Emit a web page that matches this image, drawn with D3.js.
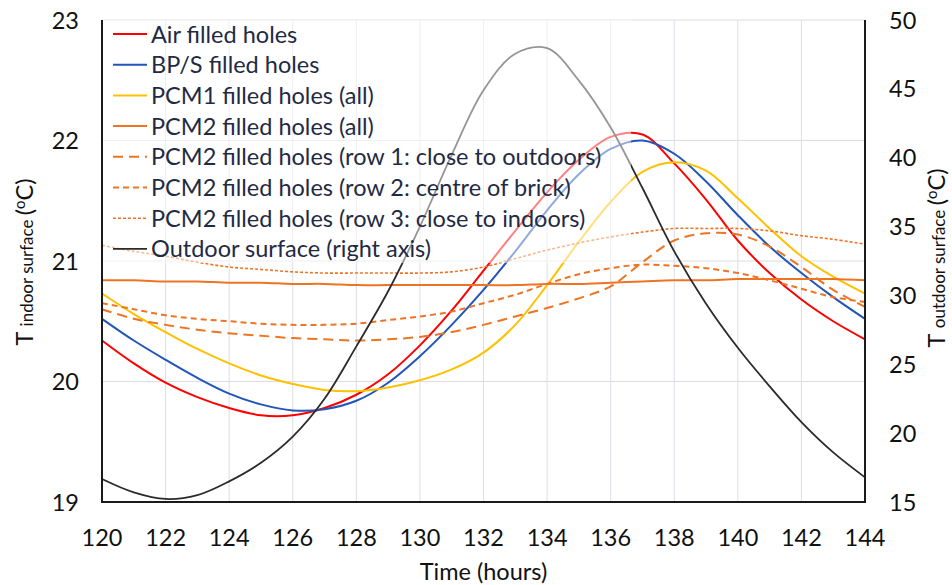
<!DOCTYPE html>
<html>
<head>
<meta charset="utf-8">
<script src="https://cdn.jsdelivr.net/npm/d3@7"></script>
<style>
  body { margin: 0; background: #fff; }
  text { font-family: Lato, "Open Sans", sans-serif; }
</style>
</head>
<body>
<script>
// data (hourly, 120..144)
const hours = d3.range(120, 145);
const airHoles   = [20.34, 20.15, 19.99, 19.87, 19.78, 19.72, 19.72, 19.78, 19.89, 20.06, 20.30, 20.59, 20.92, 21.25, 21.57, 21.84, 22.03, 22.05, 21.81, 21.51, 21.17, 20.90, 20.68, 20.50, 20.35];
const bpsHoles   = [20.52, 20.34, 20.18, 20.03, 19.90, 19.81, 19.76, 19.77, 19.84, 19.99, 20.21, 20.47, 20.76, 21.08, 21.42, 21.72, 21.93, 22.00, 21.89, 21.66, 21.38, 21.12, 20.90, 20.70, 20.52];
const pcm1All    = [20.73, 20.56, 20.41, 20.27, 20.15, 20.05, 19.98, 19.93, 19.92, 19.95, 20.01, 20.10, 20.24, 20.47, 20.80, 21.16, 21.49, 21.74, 21.82, 21.75, 21.52, 21.27, 21.04, 20.87, 20.73];
const pcm2All    = [20.84, 20.84, 20.83, 20.83, 20.82, 20.82, 20.81, 20.81, 20.80, 20.80, 20.80, 20.80, 20.80, 20.80, 20.81, 20.81, 20.82, 20.83, 20.84, 20.84, 20.85, 20.85, 20.85, 20.85, 20.84];
const pcm2Row1   = [20.60, 20.52, 20.47, 20.43, 20.40, 20.38, 20.36, 20.35, 20.34, 20.35, 20.37, 20.41, 20.47, 20.54, 20.61, 20.69, 20.79, 20.99, 21.17, 21.23, 21.22, 21.12, 20.95, 20.76, 20.62];
const pcm2Row2   = [20.65, 20.60, 20.55, 20.52, 20.50, 20.48, 20.47, 20.47, 20.48, 20.51, 20.54, 20.58, 20.65, 20.72, 20.81, 20.89, 20.94, 20.97, 20.96, 20.94, 20.90, 20.84, 20.77, 20.70, 20.66];
const pcm2Row3   = [21.13, 21.08, 21.04, 20.99, 20.95, 20.93, 20.91, 20.90, 20.90, 20.90, 20.90, 20.91, 20.95, 21.02, 21.09, 21.15, 21.20, 21.24, 21.27, 21.27, 21.27, 21.25, 21.21, 21.18, 21.14];
const outdoor    = [16.67, 15.70, 15.22, 15.50, 16.50, 17.85, 19.75, 22.50, 26.30, 30.30, 35.00, 40.20, 44.90, 47.55, 47.95, 45.60, 42.20, 37.80, 33.20, 29.40, 26.20, 23.40, 20.80, 18.60, 16.79];

const xTicks = d3.range(120, 145, 2);
const leftTicks = [19, 20, 21, 22, 23];
const rightTicks = [15, 20, 25, 30, 35, 40, 45, 50];

const series = [
  { name: "Air filled holes", values: airHoles, color: "#ff0000", dash: null, w: 2 },
  { name: "BP/S filled holes", values: bpsHoles, color: "#2155b8", dash: null, w: 2 },
  { name: "PCM1 filled holes (all)", values: pcm1All, color: "#ffc000", dash: null, w: 2 },
  { name: "PCM2 filled holes (all)", values: pcm2All, color: "#ee7424", dash: null, w: 2 },
  { name: "PCM2 filled holes (row 1: close to outdoors)", values: pcm2Row1, color: "#ee7424", dash: "10,6", w: 2 },
  { name: "PCM2 filled holes (row 2: centre of brick)", values: pcm2Row2, color: "#ee7424", dash: "6,4", w: 2 },
  { name: "PCM2 filled holes (row 3: close to indoors)", values: pcm2Row3, color: "#ee7424", dash: "3,2", w: 1.6 },
  { name: "Outdoor surface (right axis)", values: outdoor, color: "#2b2b2b", dash: null, w: 1.8, right: true }
];

const dims = { width: 952, height: 585 };
const m = { left: 102, right: 865, top: 20, bottom: 502 };

const svg = d3.select("body").append("svg")
    .attr("width", dims.width)
    .attr("height", dims.height);

const x = d3.scaleLinear().domain([120, 144]).range([m.left, m.right]);
const yL = d3.scaleLinear().domain([19, 23]).range([m.bottom, m.top]);
const yR = d3.scaleLinear().domain([15, 50]).range([m.bottom, m.top]);

// gridlines
svg.append("g").selectAll("line.v").data(xTicks.slice(1)).join("line")
    .attr("x1", d => x(d)).attr("x2", d => x(d))
    .attr("y1", m.top).attr("y2", m.bottom)
    .attr("stroke", "#dcdde6").attr("stroke-width", 1);
svg.append("g").selectAll("line.h").data(leftTicks.slice(1)).join("line")
    .attr("x1", m.left).attr("x2", m.right)
    .attr("y1", d => yL(d)).attr("y2", d => yL(d))
    .attr("stroke", "#dcdde6").attr("stroke-width", 1);

// lines
const plot = svg.append("g");
series.forEach(s => {
  const yy = s.right ? yR : yL;
  const line = d3.line()
      .x((d, i) => x(hours[i]))
      .y(d => yy(d))
      .curve(d3.curveCatmullRom.alpha(0.5));
  plot.append("path")
      .attr("d", line(s.values))
      .attr("fill", "none")
      .attr("stroke", s.color)
      .attr("stroke-width", s.w)
      .attr("stroke-dasharray", s.dash);
});

// axes frame
const ax = svg.append("g").attr("stroke", "#1a1a1a").attr("stroke-width", 2);
ax.append("line").attr("x1", m.left).attr("x2", m.left).attr("y1", m.top).attr("y2", m.bottom + 1);
ax.append("line").attr("x1", m.right).attr("x2", m.right).attr("y1", m.top).attr("y2", m.bottom + 1);
ax.append("line").attr("x1", m.left).attr("x2", m.right).attr("y1", m.bottom).attr("y2", m.bottom);

// tick labels
const fs = 23.5;
svg.append("g").selectAll("text").data(xTicks).join("text")
    .attr("x", d => x(d)).attr("y", 546)
    .attr("text-anchor", "middle").attr("font-size", fs).attr("fill", "#111")
    .text(d => d);
svg.append("g").selectAll("text").data(leftTicks).join("text")
    .attr("x", 79).attr("y", d => yL(d) + 8.5)
    .attr("text-anchor", "end").attr("font-size", fs).attr("fill", "#111")
    .text(d => d);
svg.append("g").selectAll("text").data(rightTicks).join("text")
    .attr("x", 889).attr("y", d => yR(d) + 8.5)
    .attr("text-anchor", "start").attr("font-size", fs).attr("fill", "#111")
    .text(d => d);

// axis titles
svg.append("text")
    .attr("x", x(132)).attr("y", 580)
    .attr("text-anchor", "middle").attr("font-size", fs).attr("fill", "#111")
    .text("Time (hours)");

function yTitle(cx, cy, word) {
  const t = svg.append("text")
      .attr("transform", `translate(${cx},${cy}) rotate(-90)`)
      .attr("text-anchor", "middle").attr("font-size", fs).attr("fill", "#111");
  t.append("tspan").text("T ");
  t.append("tspan").attr("font-size", 17).text(word + " ");
  t.append("tspan").text("(");
  t.append("tspan").attr("font-size", 15).attr("dy", -8).text("o");
  t.append("tspan").attr("dy", 8).text("C)");
}
yTitle(33, 262, "indoor surface");
yTitle(945, 258, "outdoor surface");

// legend with translucent box
const lg = svg.append("g");
lg.append("rect")
    .attr("x", m.left + 1).attr("y", m.top).attr("width", 528).attr("height", 243)
    .attr("fill", "#fff").attr("fill-opacity", 0.5);
series.forEach((s, i) => {
  const yy = 34 + i * 30.7;
  lg.append("line")
      .attr("x1", 113).attr("x2", 147).attr("y1", yy).attr("y2", yy)
      .attr("stroke", s.color).attr("stroke-width", s.w)
      .attr("stroke-dasharray", s.dash);
  lg.append("text")
      .attr("x", 151).attr("y", yy + 8.5)
      .attr("font-size", 23.5).attr("fill", "#1f2a44")
      .text(s.name);
});
</script>
</body>
</html>
